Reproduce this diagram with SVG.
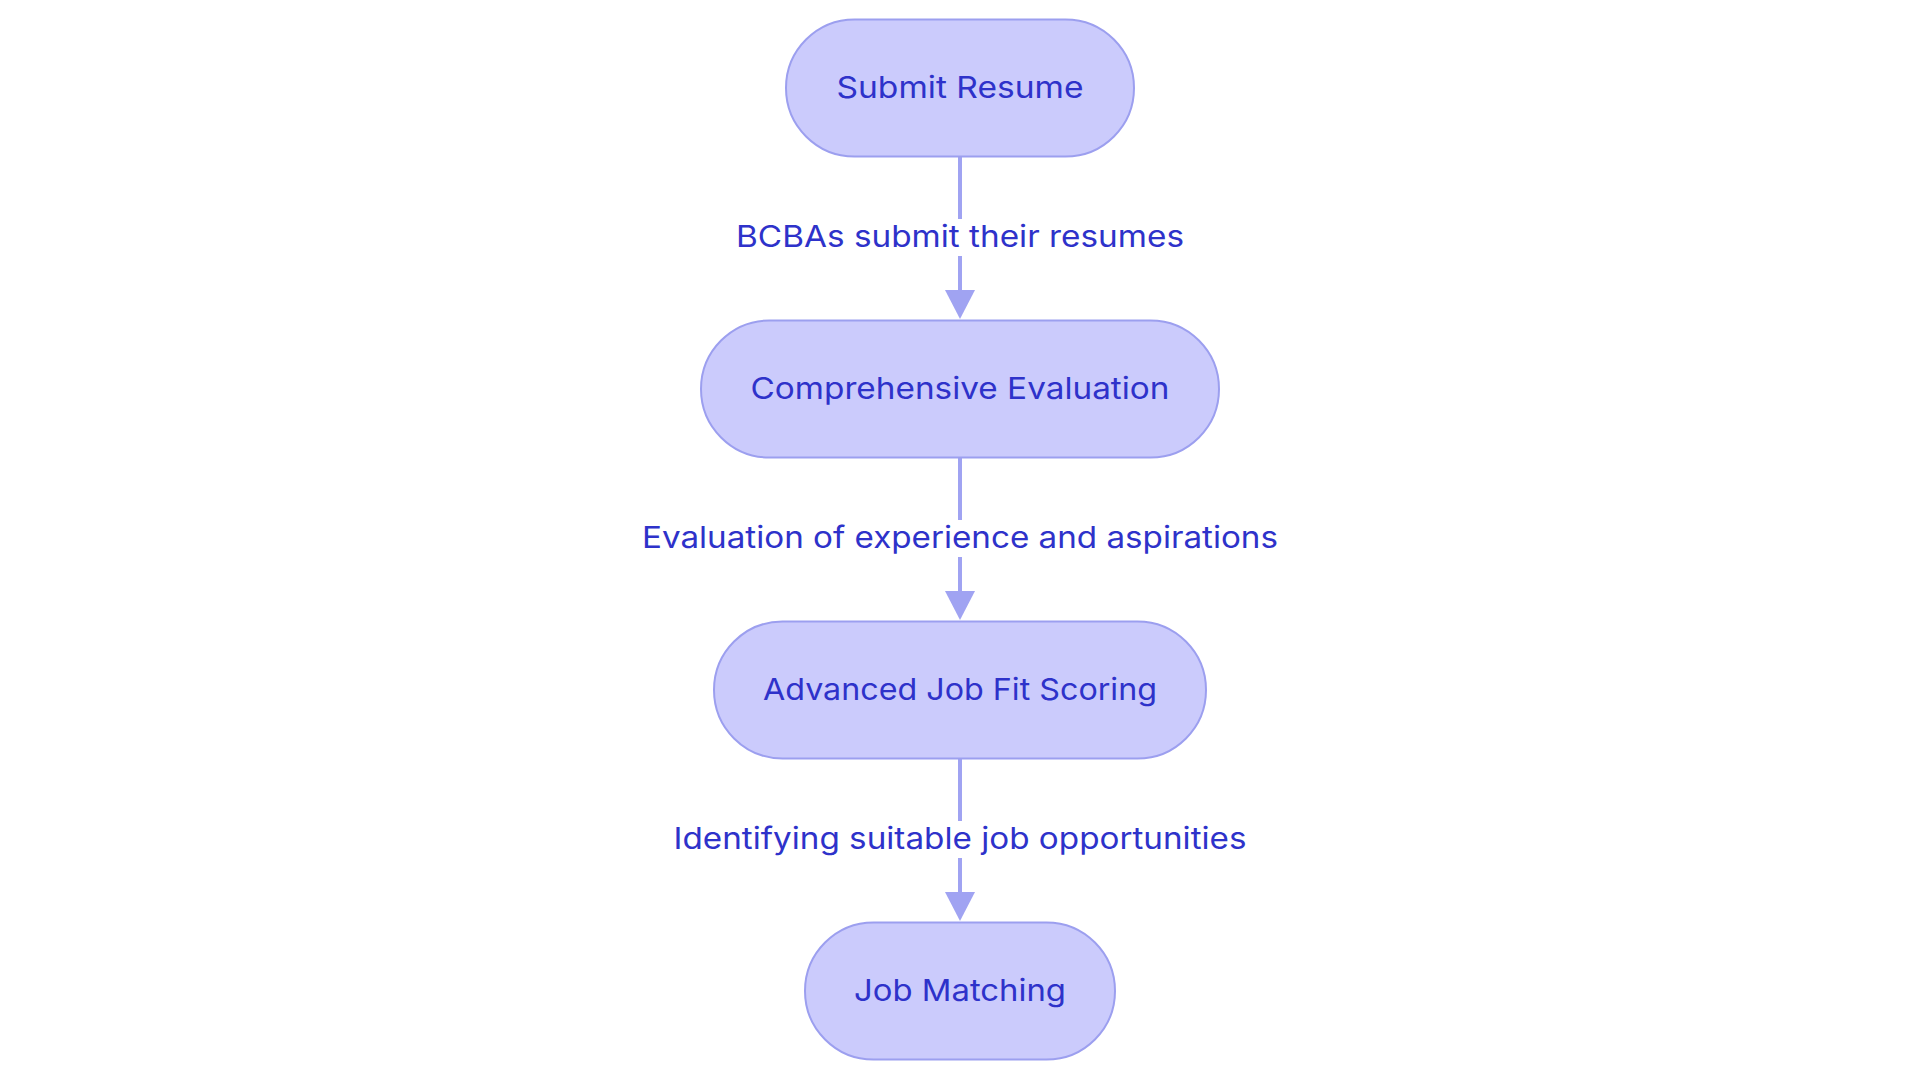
<svg xmlns="http://www.w3.org/2000/svg" width="1920" height="1083" viewBox="0 0 1920 1083">
<style>
.node rect{fill:#CBCBFC;stroke:#9C9FEF;stroke-width:2}
.node text,.lbl text{font-family:Inter,"Noto Sans","Liberation Sans",sans-serif;font-size:30px;fill:#2E32CA;text-anchor:middle}
.edge line{stroke:#A0A3F2;stroke-width:4}
.edge polygon{fill:#A0A3F2}
.lbl rect{fill:#FFFFFF}
</style>
<rect x="0" y="0" width="1920" height="1083" fill="#FFFFFF"/>
<g id="connectors">
<g class="edge" id="e1"><line x1="960" y1="157" x2="960" y2="292"/><polygon points="945,290 975,290 960,319"/></g>
<g class="edge" id="e2"><line x1="960" y1="458" x2="960" y2="593"/><polygon points="945,591 975,591 960,620"/></g>
<g class="edge" id="e3"><line x1="960" y1="759" x2="960" y2="894"/><polygon points="945,892 975,892 960,921"/></g>
<g class="lbl"><rect x="734" y="219" width="452" height="37"/><text x="960" y="247" textLength="448" lengthAdjust="spacingAndGlyphs">BCBAs submit their resumes</text></g>
<g class="lbl"><rect x="640" y="520" width="640" height="37"/><text x="960" y="548" textLength="636" lengthAdjust="spacingAndGlyphs">Evaluation of experience and aspirations</text></g>
<g class="lbl"><rect x="671" y="821" width="578" height="37"/><text x="960" y="849" textLength="573" lengthAdjust="spacingAndGlyphs">Identifying suitable job opportunities</text></g>
</g>
<g class="node" id="n1"><rect x="786" y="19.5" width="348" height="137" rx="68.5"/><text x="960" y="98" textLength="247" lengthAdjust="spacingAndGlyphs">Submit Resume</text></g>
<g class="node" id="n2"><rect x="701" y="320.5" width="518" height="137" rx="68.5"/><text x="960" y="399" textLength="419" lengthAdjust="spacingAndGlyphs">Comprehensive Evaluation</text></g>
<g class="node" id="n3"><rect x="714" y="621.5" width="492" height="137" rx="68.5"/><text x="960" y="700" textLength="394" lengthAdjust="spacingAndGlyphs">Advanced Job Fit Scoring</text></g>
<g class="node" id="n4"><rect x="805" y="922.5" width="310" height="137" rx="68.5"/><text x="960" y="1001" textLength="212" lengthAdjust="spacingAndGlyphs">Job Matching</text></g>
</svg>
